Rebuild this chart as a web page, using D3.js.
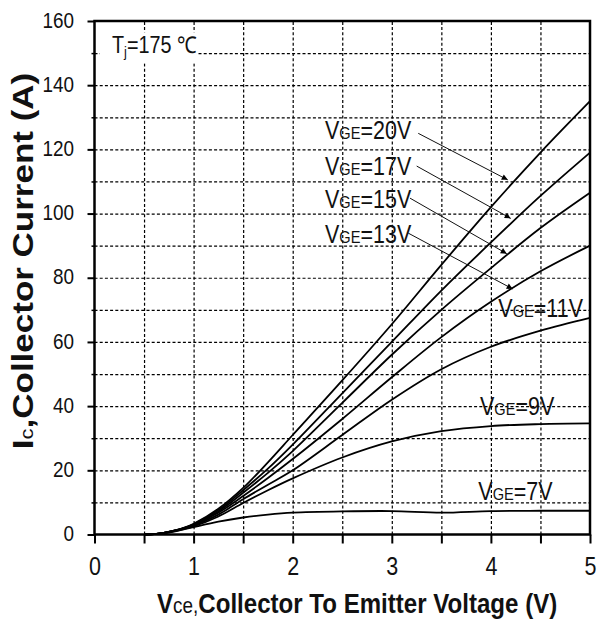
<!DOCTYPE html>
<html>
<head>
<meta charset="utf-8">
<script src="https://cdn.jsdelivr.net/npm/d3@7"></script>
<style>
    body { margin: 0; background: #fff; }
    svg { font-family: 'Liberation Sans', Arial, sans-serif; }
    .grid line { stroke: #000; stroke-width: 1.2; stroke-dasharray: 3,2.2; }
    .grid path { display: none; }
    .curve { fill: none; stroke: #000; stroke-width: 1.8; }
    .arrow { stroke: #111; stroke-width: 1; }
</style>
</head>
<body>
<div id="vis"></div>
<script>
// Vce sample points (V), shared by every curve
var vce = [0.5, 0.6, 0.7, 0.8, 0.9, 1.0, 1.25, 1.5, 1.75, 2.0, 2.5, 3.0, 3.5, 4.0, 4.5, 5.0];

// Ic (A) for each gate voltage
var ic20 = [0, 0.1, 0.5, 1.2, 2.1, 3.3, 8.0, 14.5, 22.5, 31, 48, 65.5, 84, 102, 119, 135];
var ic17 = [0, 0.1, 0.5, 1.2, 2.0, 3.2, 7.6, 13.8, 20.5, 28, 44, 60, 76, 91, 105.5, 119];
var ic15 = [0, 0.1, 0.5, 1.1, 2.0, 3.1, 7.2, 13.0, 19.2, 26, 41, 56, 70, 83, 95.5, 106.5];
var ic13 = [0, 0.1, 0.5, 1.1, 1.9, 3.0, 6.8, 12.0, 17.6, 23.5, 36, 49, 61.5, 72.5, 82, 90];
var ic11 = [0, 0.1, 0.5, 1.1, 1.8, 2.8, 6.2, 11.0, 15.5, 20, 31, 42, 51.5, 58.5, 63.5, 67.5];
var ic9  = [0, 0.1, 0.5, 1.0, 1.7, 2.5, 5.6, 9.8, 13.8, 17.5, 24, 29, 32.2, 33.8, 34.4, 34.6];
var ic7  = [0, 0.1, 0.4, 0.9, 1.6, 2.3, 4.0, 5.3, 6.2, 6.8, 7.2, 7.3, 6.8, 7.3, 7.4, 7.4];

var vge = [20, 17, 15, 13, 11, 9, 7];
var series = [ic20, ic17, ic15, ic13, ic11, ic9, ic7];

var xTicks = [0, 1, 2, 3, 4, 5];
var xMinor = [0.5, 1.5, 2.5, 3.5, 4.5];
var yTicks = [0, 20, 40, 60, 80, 100, 120, 140, 160];
var yMinor = [10, 30, 50, 70, 90, 110, 130, 150];

var margin = { left: 94.5, top: 21, right: 7, bottom: 90.5 };
var width = 597 - margin.left - margin.right;
var height = 625 - margin.top - margin.bottom;
var sx = 0.86; // the original text is a bit condensed

var svg = d3.select('#vis')
    .append('svg')
    .attr('width', 597)
    .attr('height', 625);

var g = svg.append('g')
    .attr('transform', 'translate(' + margin.left + ',' + margin.top + ')');

var xScale = d3.scaleLinear().domain([0, 5]).range([0, width]);
var yScale = d3.scaleLinear().domain([0, 160]).range([height, 0]);

/* ****** Grid ****** */
g.append('g')
    .attr('class', 'grid')
    .call(d3.axisLeft(yScale).tickValues(d3.range(10, 160, 10)).tickSize(-width).tickFormat(''));

g.append('g')
    .attr('class', 'grid')
    .attr('transform', 'translate(0,' + height + ')')
    .call(d3.axisBottom(xScale).tickValues(d3.range(0.5, 5, 0.5)).tickSize(height).tickFormat(''))
    .selectAll('line').attr('y2', -height);

/* ****** Tj legend box ****** */
var tj = g.append('g')
    .attr('transform', 'translate(17.5,32.3) scale(' + sx + ',1)');
tj.append('rect')
    .attr('x', -14).attr('y', -21)
    .attr('width', 114).attr('height', 31)
    .attr('fill', '#fff');
var tjText = tj.append('text')
    .attr('font-size', 23)
    .attr('fill', '#111');
tjText.append('tspan').text('T');
tjText.append('tspan').attr('font-size', 15).attr('dy', 4).text('j');
tjText.append('tspan').attr('dy', -4).text('=175 \u2103');

/* ****** Curves ****** */
var line = d3.line()
    .x(function(d) { return xScale(d[0]); })
    .y(function(d) { return yScale(d[1]); })
    .curve(d3.curveCatmullRom.alpha(0.5));

g.selectAll('.curve')
    .data(series)
    .enter()
    .append('path')
    .attr('class', 'curve')
    .attr('d', function(s) {
        return line(vce.map(function(v, i) { return [v, s[i]]; }));
    });

/* ****** Frame ****** */
g.append('rect')
    .attr('width', width)
    .attr('height', height)
    .attr('fill', 'none')
    .attr('stroke', '#000')
    .attr('stroke-width', 2.5);

/* ****** Axes ****** */
var yAxisG = g.append('g')
    .call(d3.axisLeft(yScale).tickValues(yTicks).tickSize(7).tickSizeOuter(0));
yAxisG.select('.domain').remove();
yAxisG.selectAll('line').attr('stroke', '#000').attr('stroke-width', 2);
yAxisG.selectAll('text')
    .attr('x', 0)
    .attr('dy', '0.28em')
    .attr('font-size', 22)
    .attr('fill', '#111')
    .attr('transform', 'translate(-20.5,0) scale(' + sx + ',1)');

var yMinorG = g.append('g')
    .call(d3.axisLeft(yScale).tickValues(yMinor).tickSize(3).tickFormat(''));
yMinorG.select('.domain').remove();
yMinorG.selectAll('line').attr('stroke', '#000').attr('stroke-width', 1.5);

var xAxisG = g.append('g')
    .attr('transform', 'translate(0,' + height + ')')
    .call(d3.axisBottom(xScale).tickValues(xTicks.concat(xMinor)).tickSize(9).tickPadding(13.5)
        .tickFormat(function(d) { return d % 1 === 0 ? d : ''; }));
xAxisG.select('.domain').remove();
xAxisG.selectAll('line').attr('stroke', '#000').attr('stroke-width', 2);
xAxisG.selectAll('text')
    .attr('font-size', 25)
    .attr('fill', '#111')
    .attr('transform', 'scale(' + sx + ',1)');

/* ****** Axis titles ****** */
var xTitle = svg.append('text')
    .attr('transform', 'translate(157,613) scale(' + sx + ',1)')
    .attr('font-size', 28)
    .attr('font-weight', 'bold')
    .attr('fill', '#111');
xTitle.append('tspan').text('V');
xTitle.append('tspan').attr('font-size', 22).attr('font-weight', 'normal').text('ce,');
xTitle.append('tspan').text('Collector To Emitter Voltage (V)');

var yTitle = svg.append('text')
    .attr('transform', 'translate(33,261) scale(' + sx + ',1) rotate(-90)')
    .attr('text-anchor', 'middle')
    .attr('font-size', 35)
    .attr('font-weight', 'bold')
    .attr('fill', '#111');
yTitle.append('tspan').text('I');
yTitle.append('tspan').attr('font-size', 22).attr('font-weight', 'normal').text('c');
yTitle.append('tspan').text(',Collector Current (A)');

/* ****** VGE labels and arrows ****** */
// label anchor [Vce, Ic] for each curve, and arrow start/end in data units (null = no arrow)
var labelAt = [[2.326, 123.2], [2.326, 112.0], [2.326, 101.7], [2.326, 90.7], [4.075, 67.9], [3.89, 37.2], [3.873, 10.75]];
var arrowAt = [
    [[3.267, 125.0], [4.17, 110.5]],
    [[3.251, 114.8], [4.2, 98.5]],
    [[3.184, 104.8], [4.16, 87.5]],
    [[3.166, 93.9], [4.22, 76.5]],
    null, null, null
];

svg.append('defs').append('marker')
    .attr('id', 'head')
    .attr('viewBox', '0 0 10 10')
    .attr('refX', 10).attr('refY', 5)
    .attr('markerUnits', 'userSpaceOnUse')
    .attr('markerWidth', 10).attr('markerHeight', 6)
    .attr('orient', 'auto')
    .append('path')
    .attr('d', 'M0,0L10,5L0,10z')
    .attr('fill', '#000');

vge.forEach(function(v, i) {
    var lab = g.append('text')
        .attr('transform', 'translate(' + xScale(labelAt[i][0]) + ',' + yScale(labelAt[i][1]) + ') scale(' + sx + ',1)')
        .attr('font-size', 25)
        .attr('fill', '#111');
    lab.append('tspan').text('V');
    lab.append('tspan').attr('font-size', 17).text('GE');
    lab.append('tspan').text('=' + v + 'V');

    if (arrowAt[i]) {
        g.append('line')
            .attr('class', 'arrow')
            .attr('x1', xScale(arrowAt[i][0][0])).attr('y1', yScale(arrowAt[i][0][1]))
            .attr('x2', xScale(arrowAt[i][1][0])).attr('y2', yScale(arrowAt[i][1][1]))
            .attr('marker-end', 'url(#head)');
    }
});
</script>
</body>
</html>
